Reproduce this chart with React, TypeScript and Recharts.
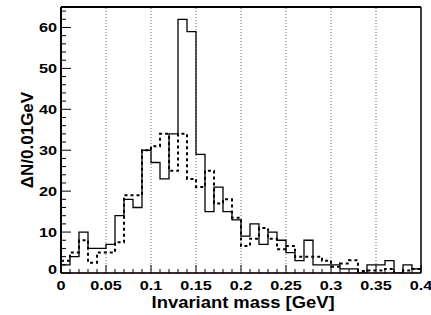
import React from "react";
import { ComposedChart, Line, XAxis, YAxis, ReferenceLine } from "recharts";

// lower edges of the 0.01 GeV bins
const binLow = [
  0, 0.01, 0.02, 0.03, 0.04, 0.05, 0.06, 0.07, 0.08, 0.09,
  0.1, 0.11, 0.12, 0.13, 0.14, 0.15, 0.16, 0.17, 0.18, 0.19,
  0.2, 0.21, 0.22, 0.23, 0.24, 0.25, 0.26, 0.27, 0.28, 0.29,
  0.3, 0.31, 0.32, 0.33, 0.34, 0.35, 0.36, 0.37, 0.38, 0.39,
];
const xMax = 0.4;

// solid histogram
const solidCounts = [
  2, 4, 10, 6, 6, 7, 14, 18, 16, 30,
  27, 23, 34, 62, 59, 29, 15, 21, 15, 13,
  9, 12, 7, 10, 8, 5, 3, 8, 2, 2,
  2, 1, 1, 0, 2, 2, 3, 0, 2, 1,
];

// dashed histogram
const dashedCounts = [
  3, 5, 8, 2.5, 5, 5, 7.5, 19, 19, 30,
  31, 34, 25, 34, 23, 21, 25, 17, 18, 13.5,
  6.6, 8.4, 11, 8.4, 5.8, 6.6, 4, 4, 4, 3,
  1.5, 2.3, 3.1, 0.5, 0.6, 0.6, 1, 0, 0.6, 1,
];

const gridX = [0.05, 0.1, 0.15, 0.2, 0.25, 0.3, 0.35];
const yMax = 65;
const yTicks = [0, 2, 4, 6, 8, 10, 12, 14, 16, 18, 20, 22, 24, 26, 28, 30, 32, 34, 36, 38, 40, 42, 44, 46, 48, 50, 52, 54, 56, 58, 60, 62, 64];
const xTicks = [...binLow, xMax];

const table = xTicks.map((x, i) => ({
  x,
  solid: solidCounts[Math.min(i, solidCounts.length - 1)],
  dashed: dashedCounts[Math.min(i, dashedCounts.length - 1)],
}));

const font = "'Liberation Sans', Arial, Helvetica, sans-serif";

const isMajorX = (v: number) => Math.abs(v / 0.05 - Math.round(v / 0.05)) < 1e-6;

const XTick = (props: any) => {
  const { x, y, payload } = props;
  const v = payload.value as number;
  const major = isMajorX(v);
  return (
    <g>
      <line x1={x} x2={x} y1={y} y2={y - (major ? 8 : 4)} stroke="#000" strokeWidth={1} />
      {major && (
        <g transform={`translate(${x},${y + 17}) scale(1.25,1)`}>
          <text x={0} y={0} textAnchor="middle" fontFamily={font} fontWeight="bold" fontSize={13} fill="#000">
            {String(Math.round(v * 100) / 100)}
          </text>
        </g>
      )}
    </g>
  );
};

const YTick = (props: any) => {
  const { x, y, payload } = props;
  const v = payload.value as number;
  const major = v % 10 === 0;
  return (
    <g>
      <line x1={x} x2={x + (major ? 10 : 5)} y1={y} y2={y} stroke="#000" strokeWidth={1} />
      {major && (
        <g transform={`translate(${x - 4},${y + (v === 0 ? 1 : 5)}) scale(1.25,1)`}>
          <text x={0} y={0} textAnchor="end" fontFamily={font} fontWeight="bold" fontSize={13} fill="#000">
            {v}
          </text>
        </g>
      )}
    </g>
  );
};

export default function App() {
  return (
    <div style={{ width: 431, height: 315, position: "absolute", left: 0, top: 0, background: "#fff" }}>
      <ComposedChart
        width={431}
        height={315}
        data={table}
        margin={{ top: 7, right: 10, left: 0, bottom: 0 }}
      >
        <XAxis
          dataKey="x"
          type="number"
          domain={[0, xMax]}
          ticks={xTicks}
          interval={0}
          height={42}
          tickSize={0}
          tickMargin={0}
          tick={<XTick />}
          axisLine={{ stroke: "#000", strokeWidth: 1.5 }}
          allowDataOverflow
        />
        <YAxis
          type="number"
          domain={[0, yMax]}
          ticks={yTicks}
          interval={0}
          width={61}
          tickSize={0}
          tickMargin={0}
          tick={<YTick />}
          axisLine={{ stroke: "#000", strokeWidth: 2 }}
          allowDataOverflow
        />
        {gridX.map((g) => (
          <ReferenceLine key={g} x={g} stroke="#666" strokeWidth={1} strokeDasharray="1 2" />
        ))}
        <ReferenceLine y={yMax} stroke="#000" strokeWidth={2} />
        <ReferenceLine x={xMax} stroke="#000" strokeWidth={1.5} />
        <Line
          type="stepAfter"
          dataKey="dashed"
          stroke="#000"
          strokeWidth={2}
          strokeDasharray="3 3"
          dot={false}
          isAnimationActive={false}
        />
        <Line
          type="stepAfter"
          dataKey="solid"
          stroke="#000"
          strokeWidth={1.3}
          dot={false}
          isAnimationActive={false}
        />
        <ReferenceLine y={0} stroke="#e05050" strokeWidth={1} />
      </ComposedChart>
      <div
        style={{
          position: "absolute",
          left: 0,
          top: 294,
          width: 431,
          paddingLeft: 48,
          boxSizing: "border-box",
          textAlign: "center",
          fontFamily: font,
          fontWeight: "bold",
          fontSize: 16,
          lineHeight: "18px",
          transform: "scaleX(1.15)",
        }}
      >
        Invariant mass [GeV]
      </div>
      <div
        style={{
          position: "absolute",
          left: 28,
          top: 140,
          transform: "translate(-50%, -50%) rotate(-90deg)",
          fontFamily: font,
          fontWeight: "bold",
          fontSize: 17,
          whiteSpace: "nowrap",
        }}
      >
        ΔN/0.01GeV
      </div>
    </div>
  );
}
